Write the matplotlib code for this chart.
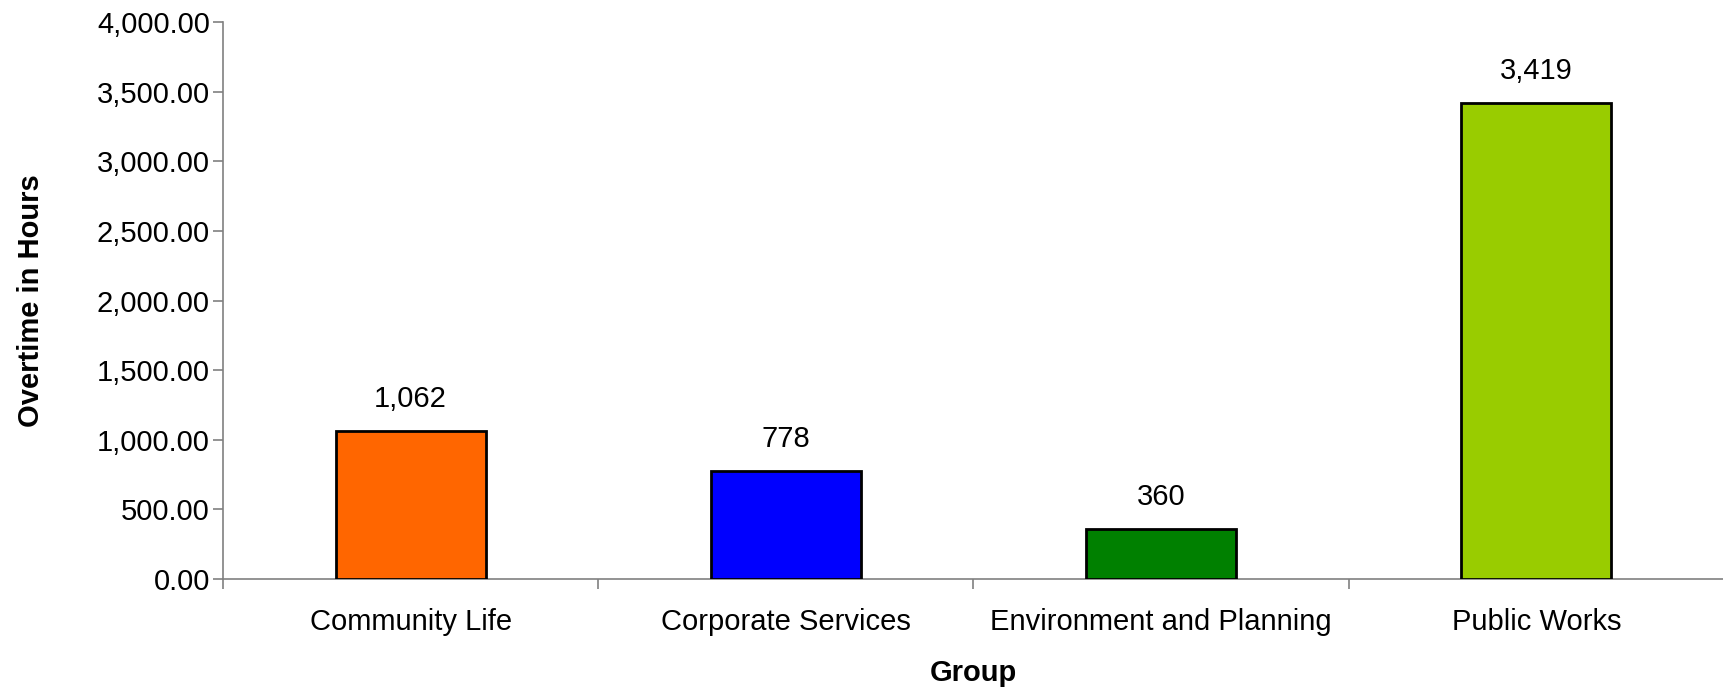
import matplotlib.pyplot as plt
import numpy as np

plt.rcParams['font.family'] = ['Liberation Sans', 'DejaVu Sans']

groups = ['Community Life', 'Corporate Services', 'Environment and Planning', 'Public Works']
overtime = [1062, 778, 360, 3419]
colors = ['#FF6600', '#0000FF', '#008000', '#99CC00']
yticks = [0, 500, 1000, 1500, 2000, 2500, 3000, 3500, 4000]

fig = plt.figure(figsize=(17.24, 6.92), dpi=100)
ax = fig.add_axes([223 / 1724, 1 - 579 / 692, 1 - 223 / 1724, 557 / 692])

x = np.arange(len(groups))
bars = ax.bar(x, overtime, width=0.4, color=colors, edgecolor='black', linewidth=2, zorder=3)

for b, v in zip(bars, overtime):
    ax.annotate(f'{v:,}', (b.get_x() + b.get_width() / 2, v), xytext=(0, 23),
                textcoords='offset points', ha='center', va='center', fontsize=21)

ax.set_xlim(-0.5, len(groups) - 0.5)
ax.set_ylim(0, 4000)
ax.set_yticks(yticks)
ax.set_yticklabels([f'{t:,.2f}' for t in yticks])

# category labels sit between the boundary ticks
ax.set_xticks(np.arange(len(groups) + 1) - 0.5)
ax.set_xticklabels([])
ax.set_xticks(x, minor=True)
ax.set_xticklabels(groups, minor=True)
ax.tick_params(axis='x', which='minor', length=0, labelsize=21, pad=21)
ax.tick_params(axis='x', which='major', length=7.5, color='#808080', width=1.2)
ax.tick_params(axis='y', length=7.5, color='#808080', width=1.2, labelsize=21, pad=2)

for s in ['top', 'right']:
    ax.spines[s].set_visible(False)
for s in ['left', 'bottom']:
    ax.spines[s].set_color('#808080')
    ax.spines[s].set_linewidth(1.2)

ax.set_ylabel('Overtime in Hours', fontsize=21, fontweight='bold', va='center')
ax.set_xlabel('Group', fontsize=21, fontweight='bold', va='center')
ax.yaxis.set_label_coords((31 - 223) / 1501, 0.5)
ax.xaxis.set_label_coords(0.5, (579 - 673) / 557)

plt.savefig('out.png', dpi=100)
